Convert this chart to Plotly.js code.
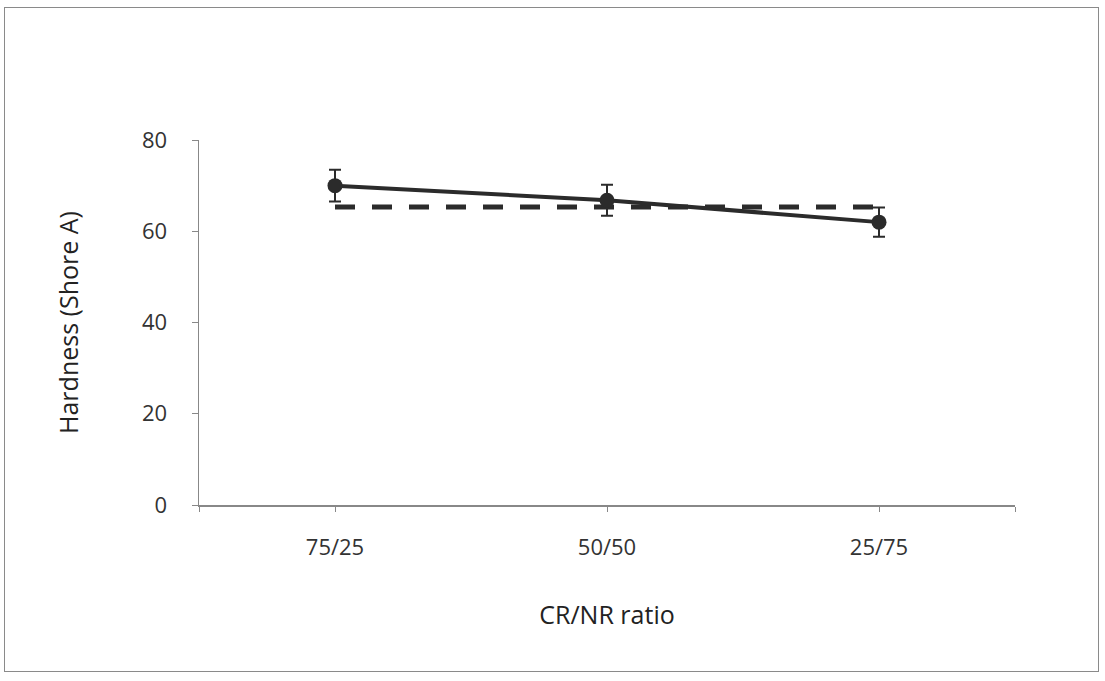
<!DOCTYPE html>
<html>
<head>
<meta charset="utf-8">
<script src="https://cdn.plot.ly/plotly-3.0.1.min.js"></script>
<style>
  html, body { margin: 0; padding: 0; background: #fff; }
  #wrap { position: relative; width: 1105px; height: 681px; }
  #chart { width: 1105px; height: 681px; }
  #frame { position: absolute; left: 4px; top: 7px; width: 1095px; height: 665px;
           border: 1.5px solid #8a8a8a; box-sizing: border-box; pointer-events: none; }
</style>
</head>
<body>
<div id="wrap">
  <div id="chart"></div>
  <div id="frame"></div>
</div>
<script>
const categories = ['75/25', '50/50', '25/75'];
const hardness = [70.0, 66.8, 62.0];
const hardnessErr = [3.5, 3.4, 3.2];
const referenceHardness = [65.3, 65.3, 65.3];

const xIdx = categories.map((c, i) => i);

const traces = [
  {
    x: xIdx, y: referenceHardness, type: 'scatter', mode: 'lines',
    line: { color: '#2b2b2b', width: 5, dash: '20px,17px' },
    hoverinfo: 'skip', showlegend: false
  },
  {
    x: xIdx, y: hardness, type: 'scatter', mode: 'lines+markers',
    line: { color: '#2b2b2b', width: 4 },
    marker: { color: '#2b2b2b', size: 15, symbol: 'circle' },
    error_y: { type: 'data', array: hardnessErr, visible: true, color: '#2b2b2b', thickness: 2, width: 6 },
    showlegend: false
  }
];

const layout = {
  width: 1105, height: 681,
  margin: { l: 199, r: 90, t: 140, b: 176 },
  paper_bgcolor: '#ffffff', plot_bgcolor: '#ffffff',
  font: { family: '"Open Sans", "Noto Sans", sans-serif', color: '#333333', size: 22 },
  showlegend: false,
  xaxis: {
    range: [-0.5, 2.5],
    tickvals: [-0.5, 0, 1, 2, 2.5],
    ticktext: ['', categories[0], categories[1], categories[2], ''],
    ticks: 'outside', ticklen: 5, tickwidth: 1, tickcolor: '#888888',
    showline: true, linecolor: '#888888', linewidth: 1.5,
    showgrid: false, zeroline: false,
    ticklabelstandoff: 17,
    tickfont: { size: 22, color: '#333333' },
    title: { text: 'CR/NR ratio', font: { size: 25, color: '#222222' }, standoff: 46 }
  },
  yaxis: {
    range: [0, 80],
    tickvals: [0, 20, 40, 60, 80],
    ticks: 'outside', ticklen: 6, tickwidth: 1, tickcolor: '#888888',
    showline: true, linecolor: '#888888', linewidth: 1.5,
    showgrid: false, zeroline: false,
    ticklabelstandoff: 20,
    tickfont: { size: 22, color: '#333333' },
    title: { text: 'Hardness (Shore A)', font: { size: 25, color: '#222222' }, standoff: 56 }
  }
};

Plotly.newPlot('chart', traces, layout, { staticPlot: true, displayModeBar: false });
</script>
</body>
</html>
